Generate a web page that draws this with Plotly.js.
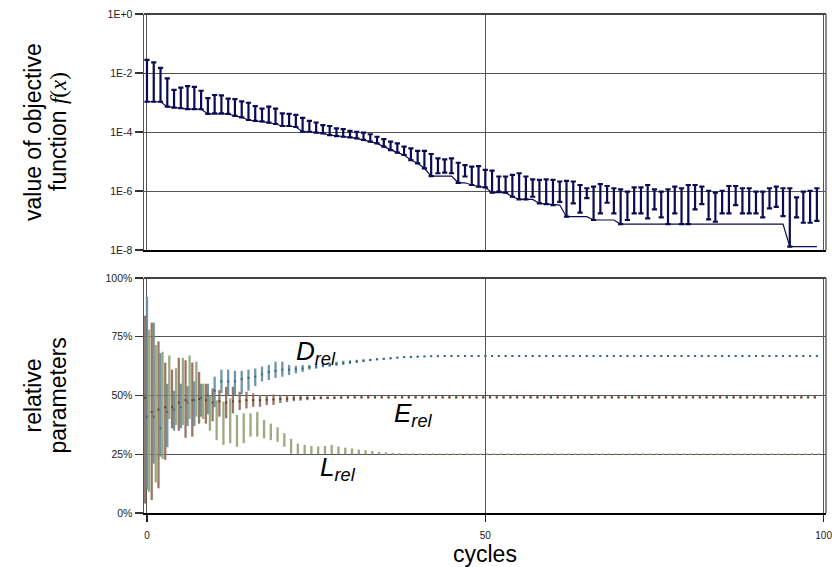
<!DOCTYPE html>
<html><head><meta charset="utf-8">
<script src="https://cdn.plot.ly/plotly-3.0.1.min.js"></script>
<style>body{margin:0;background:#fff}#chart{width:832px;height:567px}</style>
</head><body><div id="chart"></div>
<script>
const cycles = [0,1,2,3,4,5,6,7,8,9,10,11,12,13,14,15,16,17,18,19,20,21,22,23,24,25,26,27,28,29,30,31,32,33,34,35,36,37,38,39,40,41,42,43,44,45,46,47,48,49,50,51,52,53,54,55,56,57,58,59,60,61,62,63,64,65,66,67,68,69,70,71,72,73,74,75,76,77,78,79,80,81,82,83,84,85,86,87,88,89,90,91,92,93,94,95,96,97,98,99];

// objective function: worst (top of bar), best of cycle (bottom of bar), best so far (line)
const fMax = [2.8e-2,2.3e-2,1.5e-2,6.6e-3,2.7e-3,3.2e-3,3.6e-3,3.4e-3,2.5e-3,1.4e-3,
1.8e-3,1.75e-3,1.35e-3,1.3e-3,1.1e-3,9.8e-4,7.6e-4,6.2e-4,7.2e-4,6.2e-4,
4.3e-4,4.1e-4,3.8e-4,3.0e-4,2.4e-4,2.1e-4,1.7e-4,1.6e-4,1.33e-4,1.26e-4,
1.1e-4,1.02e-4,9.5e-5,8.4e-5,6.9e-5,5.7e-5,4.7e-5,4.1e-5,3.2e-5,2.8e-5,
2.3e-5,2.3e-5,1.8e-5,1.28e-5,1.19e-5,1.28e-5,9.1e-6,7.6e-6,6.7e-6,7.0e-6,
5.2e-6,4.9e-6,3.1e-6,3.1e-6,3.5e-6,4.0e-6,3.1e-6,2.5e-6,2.4e-6,2.5e-6,
2.4e-6,2.1e-6,2.2e-6,2.1e-6,1.6e-6,1.24e-6,1.4e-6,1.7e-6,1.48e-6,1.24e-6,
1.14e-6,9.5e-7,1.33e-6,1.33e-6,1.6e-6,1.14e-6,9.5e-7,1.14e-6,1.4e-6,1.24e-6,
1.6e-6,1.6e-6,1.4e-6,1.02e-6,8.8e-7,1.02e-6,1.48e-6,1.48e-6,1.24e-6,1.24e-6,
9.5e-7,9.5e-7,1.24e-6,1.4e-6,1.24e-6,1.24e-6,6.1e-7,9.5e-7,1.02e-6,1.24e-6];
const fMin = [1.06e-3,1.06e-3,1.06e-3,7.2e-4,6.7e-4,6.4e-4,6.0e-4,6.0e-4,5.9e-4,4.1e-4,
4.3e-4,4.3e-4,4.1e-4,3.5e-4,3.15e-4,2.55e-4,2.4e-4,2.3e-4,2.07e-4,1.87e-4,
1.6e-4,1.6e-4,1.48e-4,1.02e-4,1.02e-4,9.5e-5,9.0e-5,7.9e-5,7.3e-5,6.9e-5,
6.6e-5,6.1e-5,5.4e-5,4.7e-5,4.1e-5,3.2e-5,2.45e-5,2.0e-5,1.66e-5,1.12e-5,
8.7e-6,5.9e-6,3.2e-6,4.0e-6,4.2e-6,4.0e-6,1.9e-6,3.1e-6,1.6e-6,1.4e-6,
1.33e-6,8.8e-7,9.5e-7,8.8e-7,6.4e-7,5.2e-7,5.2e-7,6.4e-7,3.8e-7,3.6e-7,
3.35e-7,4.3e-7,1.35e-7,3.8e-7,1.84e-7,5.7e-7,1.04e-7,1.75e-7,4.0e-7,1.75e-7,
7.6e-8,1.04e-7,1.75e-7,1.75e-7,1.19e-7,2.4e-7,1.28e-7,7.6e-8,1.75e-7,7.6e-8,
7.6e-8,2.4e-7,3.6e-7,1.1e-7,9.1e-8,1.75e-7,1.75e-7,3.35e-7,1.75e-7,1.75e-7,
1.75e-7,1.28e-7,2.6e-7,2.9e-7,1.42e-7,1.3e-8,1.28e-7,8.4e-8,8.4e-8,9.8e-8];
const fBest = [1.06e-3,1.06e-3,1.06e-3,7.2e-4,6.7e-4,6.4e-4,6.0e-4,6.0e-4,5.9e-4,4.1e-4,
4.1e-4,4.1e-4,4.1e-4,3.5e-4,3.15e-4,2.55e-4,2.4e-4,2.3e-4,2.07e-4,1.87e-4,
1.6e-4,1.6e-4,1.48e-4,1.02e-4,1.02e-4,9.5e-5,9.0e-5,7.9e-5,7.3e-5,6.9e-5,
6.6e-5,6.1e-5,5.4e-5,4.7e-5,4.1e-5,3.2e-5,2.45e-5,2.0e-5,1.66e-5,1.12e-5,
8.7e-6,5.9e-6,3.2e-6,3.2e-6,3.2e-6,3.2e-6,1.9e-6,1.9e-6,1.6e-6,1.4e-6,
1.33e-6,8.8e-7,8.8e-7,8.8e-7,6.4e-7,5.2e-7,5.2e-7,5.2e-7,3.8e-7,3.6e-7,
3.35e-7,3.35e-7,1.35e-7,1.35e-7,1.35e-7,1.35e-7,1.04e-7,1.04e-7,1.04e-7,1.04e-7,
7.6e-8,7.6e-8,7.6e-8,7.6e-8,7.6e-8,7.6e-8,7.6e-8,7.6e-8,7.6e-8,7.6e-8,
7.6e-8,7.6e-8,7.6e-8,7.6e-8,7.6e-8,7.6e-8,7.6e-8,7.6e-8,7.6e-8,7.6e-8,
7.6e-8,7.6e-8,7.6e-8,7.6e-8,7.6e-8,1.3e-8,1.3e-8,1.3e-8,1.3e-8,1.3e-8];

// relative parameters (%): max, min, mean per cycle
const dMax = [92,81,68,55,52,55,54,56,55,55,
58,61,61,60.5,60.5,61,61.5,62.3,63,64.4,
64.4,63,62.6,63,63,63.4,64,64,64.4,64.8,
65,65.2,65.4,65.6,65.8,66,66.2,66.4,66.6,66.7,
66.8,66.9,67,67,67,67,67,67,67,67,
67,67,67,67,67,67,67,67,67,67,
67,67,67,67,67,67,67,67,67,67,
67,67,67,67,67,67,67,67,67,67,
67,67,67,67,67,67,67,67,67,67,
67,67,67,67,67,67,67,67,67,67];
const dMin = [10,21,24,28,35,36,37,37,41,42,
45,51,50,50,50.5,52,54,56,56.6,57.5,
58,58.7,59.4,60,61,61.4,62,62.2,62.6,63,
63.4,63.8,64.2,64.6,65,65.2,65.5,65.8,66,66.2,
66.3,66.4,66.5,66.5,66.6,66.6,66.6,66.6,66.6,66.6,
66.6,66.6,66.6,66.6,66.6,66.6,66.6,66.6,66.6,66.6,
66.6,66.6,66.6,66.6,66.6,66.6,66.6,66.6,66.6,66.6,
66.6,66.6,66.6,66.6,66.6,66.6,66.6,66.6,66.6,66.6,
66.6,66.6,66.6,66.6,66.6,66.6,66.6,66.6,66.6,66.6,
66.6,66.6,66.6,66.6,66.6,66.6,66.6,66.6,66.6,66.6];
const dMean = [41,41,36,43,44,45,47,48,49,50,
52,56,56,56,57,57.5,58,59,60,60.5,
61,61,61.2,61.5,62,62.3,62.8,63,63.4,63.8,
64.2,64.5,64.8,65.1,65.4,65.6,65.8,66.1,66.3,66.4,
66.5,66.6,66.7,66.7,66.8,66.8,66.8,66.8,66.8,66.8,
66.8,66.8,66.8,66.8,66.8,66.8,66.8,66.8,66.8,66.8,
66.8,66.8,66.8,66.8,66.8,66.8,66.8,66.8,66.8,66.8,
66.8,66.8,66.8,66.8,66.8,66.8,66.8,66.8,66.8,66.8,
66.8,66.8,66.8,66.8,66.8,66.8,66.8,66.8,66.8,66.8,
66.8,66.8,66.8,66.8,66.8,66.8,66.8,66.8,66.8,66.8];

const eMax = [84,81,73,64,61,66,65,64,60,55,
53,52.3,53.7,53.7,51.6,51.6,50.9,50.2,50.2,50.4,
50.2,50,49.8,49.8,49.7,49.7,49.6,49.6,49.6,49.6,
49.6,49.6,49.6,49.6,49.6,49.6,49.6,49.6,49.6,49.6,
49.6,49.6,49.6,49.6,49.6,49.6,49.6,49.6,49.6,49.6,
49.6,49.6,49.6,49.6,49.6,49.6,49.6,49.6,49.6,49.6,
49.6,49.6,49.6,49.6,49.6,49.6,49.6,49.6,49.6,49.6,
49.6,49.6,49.6,49.6,49.6,49.6,49.6,49.6,49.6,49.6,
49.6,49.6,49.6,49.6,49.6,49.6,49.6,49.6,49.6,49.6,
49.6,49.6,49.6,49.6,49.6,49.6,49.6,49.6,49.6,49.6];
const eMin = [4,5.5,10.5,22.6,36,35,32,32.5,38,38,
39,41,40.3,42.4,43.8,44.5,45.2,45.2,45.9,46,
46.8,47.2,47.6,47.8,48,48.2,48.4,48.5,48.6,48.7,
48.8,48.8,48.8,48.8,48.8,48.8,48.8,48.8,48.8,48.8,
48.8,48.8,48.8,48.8,48.8,48.8,48.8,48.8,48.8,48.8,
48.8,48.8,48.8,48.8,48.8,48.8,48.8,48.8,48.8,48.8,
48.8,48.8,48.8,48.8,48.8,48.8,48.8,48.8,48.8,48.8,
48.8,48.8,48.8,48.8,48.8,48.8,48.8,48.8,48.8,48.8,
48.8,48.8,48.8,48.8,48.8,48.8,48.8,48.8,48.8,48.8,
48.8,48.8,48.8,48.8,48.8,48.8,48.8,48.8,48.8,48.8];
const eMean = [49,43,44,45,45,47,48,48,48.5,48,
47,47.5,47,47.5,47.5,48,48,48,48.2,48.3,
48.5,48.6,48.7,48.8,48.9,48.9,49,49,49,49.1,
49.2,49.2,49.2,49.2,49.2,49.2,49.2,49.2,49.2,49.2,
49.2,49.2,49.2,49.2,49.2,49.2,49.2,49.2,49.2,49.2,
49.2,49.2,49.2,49.2,49.2,49.2,49.2,49.2,49.2,49.2,
49.2,49.2,49.2,49.2,49.2,49.2,49.2,49.2,49.2,49.2,
49.2,49.2,49.2,49.2,49.2,49.2,49.2,49.2,49.2,49.2,
49.2,49.2,49.2,49.2,49.2,49.2,49.2,49.2,49.2,49.2,
49.2,49.2,49.2,49.2,49.2,49.2,49.2,49.2,49.2,49.2];

const lMax = [78,71.5,68.6,67,61.6,66,67,64.4,55,50,
48,47.4,48.8,41.7,42.4,42.4,43,39.6,38,36.5,
34,31.5,29.5,29,28.5,28.3,28.5,29,28.3,27.8,
27.5,27,26.7,26.4,26,25.8,25.6,25.4,25.2,25.2,
25.2,25.2,25.2,25.2,25.2,25.2,25.2,25.2,25.2,25.2,
25.2,25.2,25.2,25.2,25.2,25.2,25.2,25.2,25.2,25.2,
25.2,25.2,25.2,25.2,25.2,25.2,25.2,25.2,25.2,25.2,
25.2,25.2,25.2,25.2,25.2,25.2,25.2,25.2,25.2,25.2,
25.2,25.2,25.2,25.2,25.2,25.2,25.2,25.2,25.2,25.2,
25.2,25.2,25.2,25.2,25.2,25.2,25.2,25.2,25.2,25.2];
const lMin = [9,13,23,40,37.4,37.4,40,41,40,35,
31,29,29.7,28.2,29.7,32.5,32.5,31.8,31,30.3,
28.2,25.2,25,25,25,25,25,25,25,25,
25,25,25,25,25,25,25,25,24.9,24.9,
24.9,24.9,24.9,24.9,24.9,24.9,24.9,24.9,24.9,24.9,
24.9,24.9,24.9,24.9,24.9,24.9,24.9,24.9,24.9,24.9,
24.9,24.9,24.9,24.9,24.9,24.9,24.9,24.9,24.9,24.9,
24.9,24.9,24.9,24.9,24.9,24.9,24.9,24.9,24.9,24.9,
24.9,24.9,24.9,24.9,24.9,24.9,24.9,24.9,24.9,24.9,
24.9,24.9,24.9,24.9,24.9,24.9,24.9,24.9,24.9,24.9];
const lMean = [52,52,57,50,50,50,52,52,46,43,
40,38,37,36,36,36,35,34,33,32,
30,28,27,26.5,26.2,26,25.8,25.7,25.6,25.5,
25.4,25.3,25.3,25.2,25.2,25.1,25.1,25.1,25.05,25.05,
25.05,25.05,25.05,25.05,25.05,25.05,25.05,25.05,25.05,25.05,
25.05,25.05,25.05,25.05,25.05,25.05,25.05,25.05,25.05,25.05,
25.05,25.05,25.05,25.05,25.05,25.05,25.05,25.05,25.05,25.05,
25.05,25.05,25.05,25.05,25.05,25.05,25.05,25.05,25.05,25.05,
25.05,25.05,25.05,25.05,25.05,25.05,25.05,25.05,25.05,25.05,
25.05,25.05,25.05,25.05,25.05,25.05,25.05,25.05,25.05,25.05];

const xTickVals = [0, 50, 100];
const fTickVals = [1, 1e-2, 1e-4, 1e-6, 1e-8];
const fTickText = ['1E+0', '1E-2', '1E-4', '1E-6', '1E-8'];
const pTickVals = [0, 25, 50, 75, 100];
const pTickText = ['0%', '25%', '50%', '75%', '100%'];

const NAVY = '#0b0b55';
const FONT = 'Liberation Sans, Arial, sans-serif';

function rangeTrace(offset, mx, mn, mean, barColor, dotColor, dotSize) {
  return {
    x: cycles.map(c => c + offset), y: mean, mode: 'markers', type: 'scatter',
    xaxis: 'x2', yaxis: 'y2', hoverinfo: 'skip',
    marker: {size: dotSize, color: dotColor, symbol: 'square'},
    error_y: {type: 'data', symmetric: false,
      array: mean.map((v, i) => mx[i] - v),
      arrayminus: mean.map((v, i) => v - mn[i]),
      width: 0, thickness: 2.3, color: barColor}
  };
}

const traces = [
  {x: cycles, y: fMax, mode: 'markers', type: 'scatter', xaxis: 'x', yaxis: 'y', hoverinfo: 'skip',
   marker: {size: 2, opacity: 0},
   error_y: {type: 'data', symmetric: false, array: cycles.map(() => 0),
     arrayminus: fMax.map((v, i) => v - fMin[i]), width: 2.6, thickness: 2.2, color: NAVY}},
  {x: cycles, y: fBest, mode: 'lines', type: 'scatter', xaxis: 'x', yaxis: 'y', hoverinfo: 'skip',
   line: {color: NAVY, width: 1.2}},
  rangeTrace(0, dMax, dMin, dMean, 'rgba(95,140,160,0.9)', '#2e6a85', 2),
  rangeTrace(-0.3, eMax, eMin, eMean, 'rgba(140,105,88,0.9)', '#6b3a22', 2),
  rangeTrace(0.3, lMax, lMin, lMean, 'rgba(145,160,115,0.9)', '#9aa57e', 1.5)
];

const gridC = '#555';
const baseX = {range: [-0.44, 100.35], tickvals: xTickVals, showgrid: true, gridcolor: gridC, gridwidth: 1,
  zeroline: false, showline: true, linecolor: '#000', linewidth: 2, ticklabeloverflow: 'allow'};
const baseY = {showgrid: true, gridcolor: gridC, gridwidth: 1, zeroline: false, showline: true,
  linecolor: '#555', linewidth: 1.5, ticks: 'outside', ticklen: 8, tickwidth: 1.2, tickcolor: '#333',
  tickfont: {size: 10.5, family: FONT, color: '#222'}, ticklabeloverflow: 'allow'};

function ytitle(txt, xpx, ymid) {
  return {xref: 'paper', yref: 'paper', x: (xpx - 144) / 682, y: ymid, xanchor: 'center', yanchor: 'middle',
    textangle: -90, showarrow: false, font: {size: 23, family: FONT, color: '#000'}, text: txt};
}
function label(txt, xv, yv) {
  return {xref: 'x2', yref: 'y2', x: xv, y: yv, xanchor: 'center', yanchor: 'middle', showarrow: false,
    font: {size: 26, family: FONT, color: '#000'}, text: txt};
}

const layout = {
  width: 832, height: 567, margin: {l: 144, r: 6, t: 14, b: 54},
  paper_bgcolor: '#fff', plot_bgcolor: '#fff', showlegend: false,
  font: {family: FONT, color: '#000'},
  xaxis: Object.assign({}, baseX, {domain: [0, 1], anchor: 'y', showticklabels: false, ticks: ''}),
  xaxis2: Object.assign({}, baseX, {domain: [0, 1], anchor: 'y2', matches: 'x', ticks: 'outside', ticklen: 7,
    tickwidth: 1.2, tickcolor: '#222', ticklabelstandoff: 5, tickfont: {size: 10, family: FONT, color: '#222'}}),
  yaxis: Object.assign({}, baseY, {domain: [0.527, 1], anchor: 'x', type: 'log', range: [-8, 0],
    tickvals: fTickVals, ticktext: fTickText}),
  yaxis2: Object.assign({}, baseY, {domain: [0, 0.471], anchor: 'x2', range: [0, 100],
    tickvals: pTickVals, ticktext: pTickText}),
  shapes: [
    {type: 'line', xref: 'x domain', yref: 'y domain', x0: 0, x1: 1, y0: 1, y1: 1, line: {color: '#444', width: 2}},
    {type: 'line', xref: 'x2 domain', yref: 'y2 domain', x0: 0, x1: 1, y0: 1, y1: 1, line: {color: '#444', width: 2}},
    {type: 'line', xref: 'x domain', yref: 'y domain', x0: 1, x1: 1, y0: 0, y1: 1, line: {color: '#666', width: 1.5}},
    {type: 'line', xref: 'x2 domain', yref: 'y2 domain', x0: 1, x1: 1, y0: 0, y1: 1, line: {color: '#666', width: 1.5}}
  ],
  annotations: [
    ytitle('value of objective', 33, 0.7635),
    ytitle('function <span style="font-family:Liberation Serif"><i>f</i>(<i>x</i>)</span>', 58, 0.7635),
    ytitle('relative', 33, 0.2355),
    ytitle('parameters', 58, 0.2355),
    {xref: 'paper', yref: 'paper', x: 0.5, y: (513 - 539) / 499, xanchor: 'center', yanchor: 'top', showarrow: false,
     font: {size: 23, family: FONT, color: '#000'}, text: 'cycles'},
    label('<i>D<sub>rel</sub></i>', 25.0, 68.5),
    label('<i>E<sub>rel</sub></i>', 39.4, 42),
    label('<i>L<sub>rel</sub></i>', 28.2, 18.8)
  ]
};

Plotly.newPlot('chart', traces, layout, {displayModeBar: false, staticPlot: true});
</script>
</body></html>
